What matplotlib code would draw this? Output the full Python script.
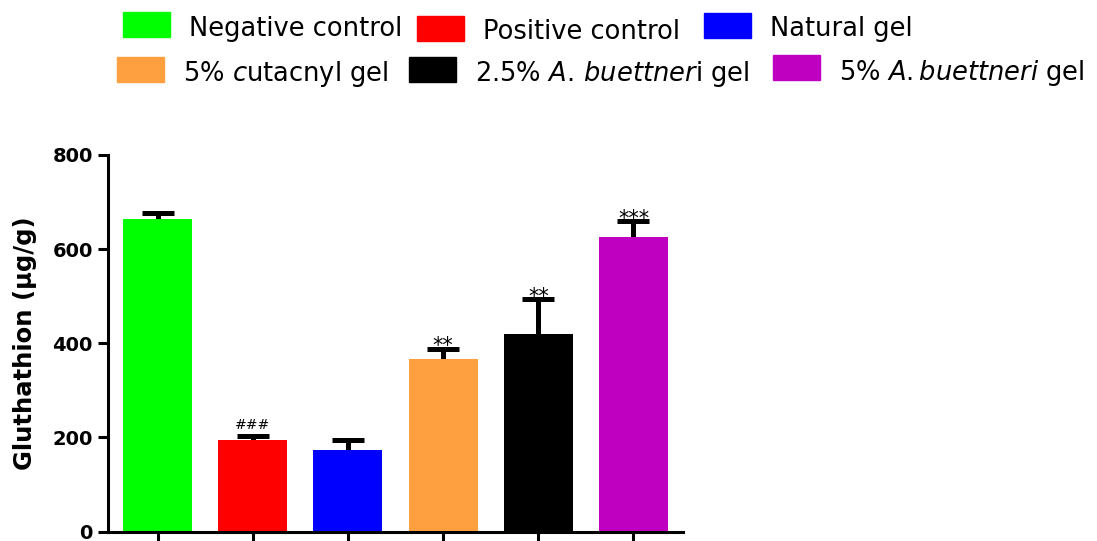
import numpy as np
import matplotlib
matplotlib.use("Agg")
import matplotlib.pyplot as plt
from matplotlib.patches import Rectangle

plt.rcParams["font.family"] = ["DejaVu Sans"]
plt.rcParams["mathtext.fontset"] = "dejavusans"

# data
groups = ["Negative control", "Positive control", "Natural gel",
          "5% cutacnyl gel", "2.5% A. buettneri gel", "5% A.buettneri gel"]
legend_labels = ["Negative control", "Positive control", "Natural gel",
                 r"5% $\mathit{c}$utacnyl gel",
                 r"2.5% $\mathit{A.\,buettner}$i gel",
                 r"5% $\mathit{A.buettneri}$ gel"]
glutathione = [664, 194, 174, 366, 420, 625]
sem = [13, 9, 21, 22, 73, 34]
marks = ["", "###", "", "**", "**", "***"]
colors = ["#00ff00", "#ff0000", "#0000ff", "#ffa040", "#000000", "#c000c0"]
y_ticks = [0, 200, 400, 600, 800]

W, H = 1097, 541
fig = plt.figure(figsize=(W/100, H/100), dpi=100)

# axes placed in pixel terms
left, right, top, bottom = 108, 683, 155, 531.5
ax = fig.add_axes([left/W, (H-bottom)/H, (right-left)/W, (bottom-top)/H])

x = np.arange(len(groups))
ax.bar(x, glutathione, width=0.725, color=colors, zorder=2)
# full error bars behind the bars, so only the upper half shows
ax.errorbar(x, glutathione, yerr=sem, fmt="none",
            ecolor="black", elinewidth=3.6, capsize=11.5, capthick=3.6, zorder=1)

for xi, v, e, m in zip(x, glutathione, sem, marks):
    if not m:
        continue
    if m.startswith("#"):
        ax.annotate(m, (xi, v + e), xytext=(0, 8), textcoords="offset points",
                    ha="center", va="center", fontsize=10)
    else:
        ax.annotate(m, (xi, v + e), xytext=(0, 2), textcoords="offset points",
                    ha="center", va="center", fontsize=15)

ax.set_xlim(-0.52, 5.52)
ax.set_ylim(0, 800)
ax.set_xticks(x)
ax.set_xticklabels([])
ax.set_yticks(y_ticks)
ax.set_yticklabels([str(t) for t in y_ticks], fontsize=14, fontweight="bold")
for s in ["top", "right"]:
    ax.spines[s].set_visible(False)
for s in ["left", "bottom"]:
    ax.spines[s].set_linewidth(2.2)
ax.tick_params(axis="y", length=7, width=2.2, pad=4)
ax.tick_params(axis="x", length=9, width=2.2)
ax.set_ylabel("Gluthathion (µg/g)", fontsize=17.5, fontweight="bold", labelpad=11)

# legend drawn by hand, two rows like the original
leg_pos = [(123, 12, 36), (417, 16, 39), (704, 13, 36),
           (117, 57, 81), (409, 57, 81), (773, 55, 80)]
for (px, py, base), lab, c in zip(leg_pos, legend_labels, colors):
    fig.patches.append(Rectangle((px/W, 1 - (py+25)/H), 47/W, 25/H,
                                 transform=fig.transFigure, color=c))
    fig.text((px + 66)/W, 1 - base/H, lab, fontsize=18.5, va="baseline")

fig.savefig("out.png", dpi=100)
